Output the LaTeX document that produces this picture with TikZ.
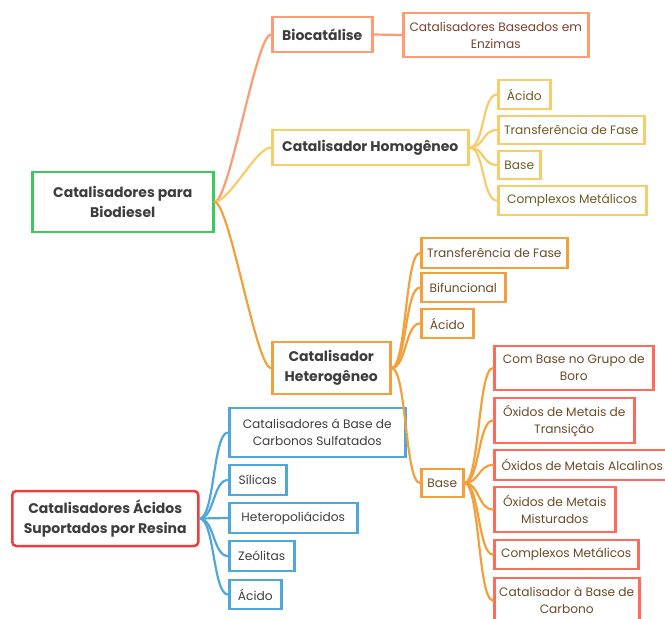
\documentclass[tikz,border=0pt]{standalone}
\usepackage{fontspec}
\setmainfont{Poppins}

\definecolor{cgreen}{HTML}{3EC95C}
\definecolor{csalmon}{HTML}{FF9B73}
\definecolor{cyellow}{HTML}{F7CD6B}
\definecolor{corange}{HTML}{F2A03C}
\definecolor{cred}{HTML}{FF6A5A}
\definecolor{cdeepred}{HTML}{F03C3C}
\definecolor{cblue}{HTML}{4FA7DA}
\definecolor{tmain}{HTML}{3D3D3D}
\definecolor{tsalmon}{HTML}{7B3F2D}
\definecolor{tyellow}{HTML}{6E5A22}
\definecolor{tbrown}{HTML}{6B4A26}

\begin{document}
\begin{tikzpicture}[x=1pt, y=-1pt,
  box/.style={draw, rectangle, line width=2.5pt, anchor=west, inner sep=2pt,
    align=center, font=\fontsize{12.2}{17}\selectfont},
  mainbox/.style={box, text=tmain, font=\fontsize{14}{19.5}\selectfont\bfseries},
  branch/.style={line width=2.2pt, line cap=round}]

\useasboundingbox (0,0) rectangle (665,619);

% Main topics
\node[mainbox, draw=cgreen, minimum width=181, minimum height=60] (bio) at (31,202) {Catalisadores para\\Biodiesel};
\node[mainbox, draw=cdeepred, rounded corners=4pt, minimum width=186, minimum height=55] (resin) at (11,518.5) {Catalisadores Ácidos\\Suportados por Resina};

% First level
\node[mainbox, draw=csalmon, minimum width=100, minimum height=35] (enzcat) at (271,34.5) {Biocatálise};
\node[mainbox, draw=cyellow, minimum width=196, minimum height=35] (homo) at (271,147.5) {Catalisador Homogêneo};
\node[mainbox, draw=corange, minimum width=118, minimum height=52] (hetero) at (271,368) {Catalisador\\Heterogêneo};

% Biocatalise
\node[box, draw=csalmon, text=tsalmon, minimum width=185, minimum height=44] (enzima) at (402,35) {Catalisadores Baseados em\\Enzimas};

% Homogeneo
\node[box, draw=cyellow, text=tyellow, minimum width=52, minimum height=29] (homacid) at (497,94.5) {Ácido};
\node[box, draw=cyellow, text=tyellow, minimum width=146, minimum height=28] (homtf) at (497,130) {Transferência de Fase};
\node[box, draw=cyellow, text=tyellow, minimum width=42, minimum height=28] (hombase) at (497,165) {Base};
\node[box, draw=cyellow, text=tyellow, minimum width=148, minimum height=29] (homcm) at (497,200.5) {Complexos Metálicos};

% Heterogeneo
\node[box, draw=corange, text=tbrown, minimum width=146, minimum height=30] (hettf) at (420,253) {Transferência de Fase};
\node[box, draw=corange, text=tbrown, minimum width=84, minimum height=29] (hetbif) at (420,287.5) {Bifuncional};
\node[box, draw=corange, text=tbrown, minimum width=52, minimum height=29] (hetacid) at (420,323.5) {Ácido};
\node[box, draw=corange, text=tbrown, minimum width=42, minimum height=28] (hetbase) at (420,483) {Base};

% Base heterogenea
\node[box, draw=cred, text=tbrown, minimum width=159, minimum height=44] (boro) at (493,368) {Com Base no Grupo de\\Boro};
\node[box, draw=cred, text=tbrown, minimum width=140, minimum height=45] (transit) at (493,420.5) {Óxidos de Metais de\\Transição};
\node[box, draw=cred, text=tbrown, minimum width=176, minimum height=30] (alcal) at (493,465) {Óxidos de Metais Alcalinos};
\node[box, draw=cred, text=tbrown, minimum width=121, minimum height=45] (mistos) at (493,509.5) {Óxidos de Metais\\Misturados};
\node[box, draw=cred, text=tbrown, minimum width=144, minimum height=29] (complex) at (493,554.5) {Complexos Metálicos};
\node[box, draw=cred, text=tbrown, minimum width=145, minimum height=45] (carbono) at (493,600.5) {Catalisador à Base de\\Carbono};

% Resina
\node[box, draw=cblue, text=tmain, minimum width=176, minimum height=49] (sulf) at (228,432.5) {Catalisadores á Base de\\Carbonos Sulfatados};
\node[box, draw=cblue, text=tmain, minimum width=57, minimum height=30] (silica) at (228,480) {Sílicas};
\node[box, draw=cblue, text=tmain, minimum width=128, minimum height=30] (hpa) at (228,518) {Heteropoliácidos};
\node[box, draw=cblue, text=tmain, minimum width=65, minimum height=30] (zeol) at (228,556) {Zeólitas};
\node[box, draw=cblue, text=tmain, minimum width=52, minimum height=29] (resacid) at (228,594.5) {Ácido};

% Connectors
\draw[branch, csalmon] (bio.east) .. controls +(15,0) and +(-15,0) .. (enzcat.west);
\draw[branch, cyellow] (bio.east) .. controls +(15,0) and +(-15,0) .. (homo.west);
\draw[branch, corange] (bio.east) .. controls +(15,0) and +(-15,0) .. (hetero.west);
\draw[branch, csalmon] (enzcat.east) -- (enzima.west);
\foreach \n in {homacid, homtf, hombase, homcm}
  \draw[branch, cyellow] (homo.east) .. controls +(15,0) and +(-15,0) .. (\n.west);
\foreach \n in {hettf, hetbif, hetacid, hetbase}
  \draw[branch, corange] (hetero.east) .. controls +(15,0) and +(-15,0) .. (\n.west);
\foreach \n in {boro, transit, alcal, mistos, complex, carbono}
  \draw[branch, corange] (hetbase.east) .. controls +(15,0) and +(-15,0) .. (\n.west);
\foreach \n in {sulf, silica, hpa, zeol, resacid}
  \draw[branch, cblue] (resin.east) .. controls +(15,0) and +(-15,0) .. (\n.west);

\end{tikzpicture}
\end{document}
